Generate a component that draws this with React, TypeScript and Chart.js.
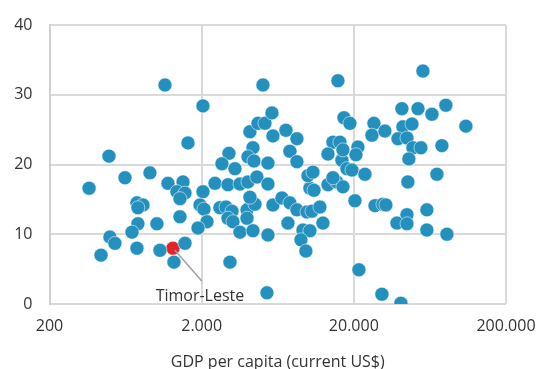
import React, { useEffect, useRef } from "react";
import { Chart, registerables } from "chart.js";

Chart.register(...registerables);

const gdpPerCapita = [
  364, 492, 436, 499, 538, 627, 914, 1201, 751, 823, 762, 762, 697, 1016, 751, 1064, 1315, 1554, 1440, 1148,
  1626, 1508, 1376, 1554, 1440, 2040, 2040, 1950, 2070, 2168, 1892, 2446, 2978, 3570, 4028, 4614, 2636, 2890,
  3164, 2978, 3212, 3972, 3972, 4478, 4152, 3570, 4346, 5454, 3070, 5370, 5056, 4152, 4688, 5210, 5794, 3022,
  2718, 3310, 4346, 4028, 4412, 5454, 5882, 5454, 5882, 6740, 7600, 8454, 9840, 10610, 11970, 7380, 12530,
  9260, 10290, 8986, 9680, 10290, 10940, 13520, 15480, 16960, 9990, 10770, 7160, 8454, 7600, 8454, 15720,
  14580, 16200, 13520, 16700, 16960, 17220, 18840, 14580, 18020, 19440, 21280, 20650, 23660, 20340, 27540,
  31060, 32500, 45300, 70300, 60400, 44700, 38400, 44700, 60400, 81800, 21600, 30580, 40780, 56900, 41400,
  52800, 65200, 80500, 109000, 27100, 26300, 32000, 42000, 48200, 39000, 44700, 48900, 55200, 46000, 75800,
];

const shareValues = [
  16.6, 21.2, 7.0, 9.6, 8.7, 18.1, 18.8, 17.3, 14.5, 14.2, 13.8, 11.5, 10.3, 11.5, 8.0, 7.7, 6.0, 8.7, 12.5, 31.4,
  23.1, 17.5, 16.1, 15.9, 15.1, 28.4, 16.1, 14.2, 13.6, 11.8, 10.9, 17.3, 17.1, 17.2, 17.5, 18.2, 13.8, 13.9,
  13.3, 12.3, 11.8, 13.5, 12.3, 14.3, 15.3, 10.3, 10.5, 9.9, 6.0, 1.6, 31.4, 24.7, 25.9, 25.9, 27.4, 21.6,
  20.1, 19.4, 22.4, 21.1, 20.5, 20.2, 24.1, 17.2, 14.2, 15.2, 14.5, 13.5, 13.2, 13.3, 13.9, 11.6, 11.6,
  10.6, 10.5, 9.2, 7.6, 16.6, 16.3, 17.1, 17.5, 16.8, 18.4, 18.9, 24.9, 23.7, 21.9, 20.4, 32.0,
  23.2, 23.2, 21.5, 20.6, 22.1, 26.7, 25.9, 18.1, 19.4, 19.2, 22.5, 21.4, 18.6, 14.8, 14.1,
  14.3, 14.2, 17.5, 18.6, 13.5, 12.8, 11.6, 11.5, 10.6, 10.0, 4.9, 1.4, 0.1, 33.4, 28.0,
  28.0, 27.2, 28.5, 25.5, 25.9, 24.2, 24.8, 25.4, 25.8, 23.7, 23.8, 22.4, 22.4, 20.8, 22.7,
];

const highlightName = "Timor-Leste";
const highlightGdp = [1295];
const highlightValue = [8.0];

const xTicks = [200, 2000, 20000, 200000];
const yTicks = [0, 10, 20, 30, 40];
const xTitle = "GDP per capita (current US$)";

const FONT = "'Open Sans', sans-serif";

function fmt(v: number): string {
  return String(v).replace(/\B(?=(\d{3})+(?!\d))/g, ".");
}

const labelPlugin = {
  id: "highlightLabel",
  afterDatasetsDraw(chart: any) {
    const { ctx, scales } = chart;
    const px = scales.x.getPixelForValue(highlightGdp[0]);
    const py = scales.y.getPixelForValue(highlightValue[0]);
    ctx.save();
    ctx.strokeStyle = "#a0a0a0";
    ctx.lineWidth = 1.5;
    ctx.beginPath();
    ctx.moveTo(px + 2, py + 2);
    ctx.lineTo(px + 29, py + 33);
    ctx.stroke();
    ctx.fillStyle = "#333333";
    ctx.font = "16px " + FONT;
    ctx.textAlign = "center";
    ctx.textBaseline = "middle";
    ctx.fillText(highlightName, px + 27, py + 48);
    ctx.restore();
  },
};

export default function App() {
  const ref = useRef<HTMLCanvasElement>(null);
  useEffect(() => {
    document.body.style.margin = "0";
    const data = gdpPerCapita.map((g, i) => ({ x: g, y: shareValues[i] }));
    const hi = highlightGdp.map((g, i) => ({ x: g, y: highlightValue[i] }));
    const chart = new Chart(ref.current as HTMLCanvasElement, {
      type: "scatter",
      data: {
        datasets: [
          {
            data,
            backgroundColor: "#2490be",
            borderColor: "rgba(255,255,255,0.7)",
            borderWidth: 0.75,
            pointRadius: 7,
          },
          {
            data: hi,
            backgroundColor: "#e0262a",
            borderColor: "rgba(255,255,255,0.7)",
            borderWidth: 0.75,
            pointRadius: 7,
          },
        ],
      },
      options: {
        responsive: false,
        animation: false,
        layout: { padding: { left: 0, right: 33, top: 25, bottom: 0 } },
        plugins: { legend: { display: false }, tooltip: { enabled: false } },
        scales: {
          x: {
            type: "logarithmic",
            min: 200,
            max: 200000,
            afterBuildTicks: (axis: any) => {
              axis.ticks = xTicks.map((v) => ({ value: v }));
            },
            afterFit: (axis: any) => {
              axis.height = 65;
              axis.paddingLeft = 0;
              axis.paddingRight = 0;
            },
            ticks: {
              callback: (v: any) => fmt(Number(v)),
              color: "#333333",
              font: { family: FONT, size: 16 },
              padding: 13,
              maxRotation: 0,
              autoSkip: false,
            },
            grid: { color: "#d9d9d9", lineWidth: 2, drawTicks: false },
            border: { display: false },
            title: {
              display: true,
              text: xTitle,
              color: "#333333",
              font: { family: FONT, size: 16 },
              padding: { top: 8, bottom: -3 },
            },
          },
          y: {
            min: 0,
            max: 40,
            afterBuildTicks: (axis: any) => {
              axis.ticks = yTicks.map((v) => ({ value: v }));
            },
            afterFit: (axis: any) => {
              axis.width = 49.5;
              axis.paddingTop = 0;
              axis.paddingBottom = 0;
            },
            ticks: {
              color: "#333333",
              font: { family: FONT, size: 16 },
              padding: 17,
            },
            grid: { color: "#d9d9d9", lineWidth: 2, drawTicks: false },
            border: { display: true, color: "#d0d0d0", width: 2 },
          },
        },
      },
      plugins: [labelPlugin],
    } as any);
    return () => chart.destroy();
  }, []);
  return (
    <div style={{ width: 539, height: 369 }}>
      <canvas ref={ref} width={539} height={369} />
    </div>
  );
}
